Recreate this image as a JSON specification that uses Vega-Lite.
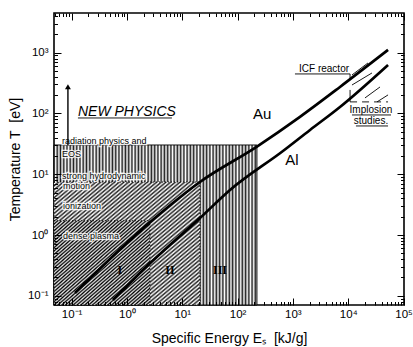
{
"$schema":"https://vega.github.io/schema/vega-lite/v6.json",
"width":350,"height":292,
"autosize":"none",
"padding":{"left":54,"top":13,"right":9,"bottom":42},
"background":"white",
"config":{"view":{"stroke":"black","strokeWidth":1.6},"font":"Liberation Sans"},
"datasets":{
"regions":[
{"name":"vert","E":0.048,"E2":224,"T":0.0705,"T2":30.3},
{"name":"diag","E":0.048,"E2":20.9,"T":0.0705,"T2":7.45},
{"name":"dense","E":0.048,"E2":2.61,"T":0.0705,"T2":1.72}
],
"curves":[
{"material":"Au","E":0.115,"T":0.111},
{"material":"Au","E":2.61,"T":1.62},
{"material":"Au","E":20.9,"T":7.45},
{"material":"Au","E":224,"T":28.5},
{"material":"Au","E":1343,"T":88},
{"material":"Au","E":7100,"T":273},
{"material":"Au","E":52500,"T":1110},
{"material":"Al","E":0.558,"T":0.085},
{"material":"Al","E":2.61,"T":0.342},
{"material":"Al","E":20.9,"T":1.9},
{"material":"Al","E":73,"T":5.5},
{"material":"Al","E":662,"T":24.1},
{"material":"Al","E":2040,"T":53.5},
{"material":"Al","E":7100,"T":128},
{"material":"Al","E":52500,"T":630}
],
"labels":[
{"txt":"radiation physics and","E":0.0668,"T":35.7,"kind":"region"},
{"txt":"EOS","E":0.0668,"T":21.5,"kind":"region"},
{"txt":"strong hydrodynamic","E":0.0668,"T":9.4,"kind":"region"},
{"txt":"motion","E":0.07,"T":6.4,"kind":"region"},
{"txt":"ionization","E":0.07,"T":3.0,"kind":"region"},
{"txt":"dense plasma","E":0.07,"T":0.97,"kind":"region"},
{"txt":"I","E":0.747,"T":0.265,"kind":"roman"},
{"txt":"II","E":6.0,"T":0.265,"kind":"roman"},
{"txt":"III","E":48.1,"T":0.265,"kind":"roman"},
{"txt":"Au","E":277,"T":98,"kind":"material"},
{"txt":"Al","E":964,"T":17.2,"kind":"material"},
{"txt":"NEW PHYSICS","E":0.13,"T":106,"kind":"hand"},
{"txt":"ICF reactor","E":1290,"T":540,"kind":"note"},
{"txt":"Implosion","E":25800,"T":114,"kind":"notec"},
{"txt":"studies.","E":25800,"T":75,"kind":"notec"}
],
"segments":[
{"E":0.0857,"T":30,"E2":0.0857,"T2":280,"kind":"arrow"},
{"E":0.13,"T":84.3,"E2":6.5,"T2":84.3,"kind":"line"},
{"E":1090,"T":447,"E2":10800,"T2":447,"kind":"line"},
{"E":10800,"T":447,"E2":10800,"T2":366,"kind":"line"},
{"E":11700,"T":430,"E2":22800,"T2":678,"kind":"line"},
{"E":11700,"T":294,"E2":26900,"T2":464,"kind":"line"},
{"E":20100,"T":180,"E2":37600,"T2":273,"kind":"line"},
{"E":33200,"T":155,"E2":52500,"T2":202,"kind":"line"},
{"E":10800,"T":244,"E2":10800,"T2":155,"kind":"line"},
{"E":10800,"T":155,"E2":52500,"T2":155,"kind":"dash"},
{"E":11700,"T":94.5,"E2":59400,"T2":94.5,"kind":"line"},
{"E":13800,"T":62.3,"E2":52500,"T2":62.3,"kind":"line"}
]
},
"encoding":{
"x":{"field":"E","type":"quantitative","scale":{"type":"log","domain":[0.048,102000],"nice":false},"axis":null},
"y":{"field":"T","type":"quantitative","scale":{"type":"log","domain":[0.0705,4500],"nice":false},"axis":null}
},
"layer":[
{"data":{"name":"regions"},"transform":[{"filter":"datum.name=='vert'"}],
"mark":{"type":"rect","stroke":"black","strokeWidth":0.9,
"fill":{"gradient":"linear","x1":0,"y1":0,"x2":1,"y2":0,"stops":[
{"offset":0,"color":"#222"},{"offset":0.008,"color":"#fff"},{"offset":0.016,"color":"#222"},{"offset":0.024,"color":"#fff"},{"offset":0.032,"color":"#222"},{"offset":0.04,"color":"#fff"},{"offset":0.048,"color":"#222"},{"offset":0.056,"color":"#fff"},{"offset":0.064,"color":"#222"},{"offset":0.072,"color":"#fff"},{"offset":0.08,"color":"#222"},{"offset":0.088,"color":"#fff"},{"offset":0.096,"color":"#222"},{"offset":0.104,"color":"#fff"},{"offset":0.112,"color":"#222"},{"offset":0.12,"color":"#fff"},{"offset":0.128,"color":"#222"},{"offset":0.136,"color":"#fff"},{"offset":0.144,"color":"#222"},{"offset":0.152,"color":"#fff"},{"offset":0.16,"color":"#222"},{"offset":0.168,"color":"#fff"},{"offset":0.176,"color":"#222"},{"offset":0.184,"color":"#fff"},{"offset":0.192,"color":"#222"},{"offset":0.2,"color":"#fff"},{"offset":0.208,"color":"#222"},{"offset":0.216,"color":"#fff"},{"offset":0.224,"color":"#222"},{"offset":0.232,"color":"#fff"},{"offset":0.24,"color":"#222"},{"offset":0.248,"color":"#fff"},{"offset":0.256,"color":"#222"},{"offset":0.264,"color":"#fff"},{"offset":0.272,"color":"#222"},{"offset":0.28,"color":"#fff"},{"offset":0.288,"color":"#222"},{"offset":0.296,"color":"#fff"},{"offset":0.304,"color":"#222"},{"offset":0.312,"color":"#fff"},{"offset":0.32,"color":"#222"},{"offset":0.328,"color":"#fff"},{"offset":0.336,"color":"#222"},{"offset":0.344,"color":"#fff"},{"offset":0.352,"color":"#222"},{"offset":0.36,"color":"#fff"},{"offset":0.368,"color":"#222"},{"offset":0.376,"color":"#fff"},{"offset":0.384,"color":"#222"},{"offset":0.392,"color":"#fff"},{"offset":0.4,"color":"#222"},{"offset":0.408,"color":"#fff"},{"offset":0.416,"color":"#222"},{"offset":0.424,"color":"#fff"},{"offset":0.432,"color":"#222"},{"offset":0.44,"color":"#fff"},{"offset":0.448,"color":"#222"},{"offset":0.456,"color":"#fff"},{"offset":0.464,"color":"#222"},{"offset":0.472,"color":"#fff"},{"offset":0.48,"color":"#222"},{"offset":0.488,"color":"#fff"},{"offset":0.496,"color":"#222"},{"offset":0.504,"color":"#fff"},{"offset":0.512,"color":"#222"},{"offset":0.52,"color":"#fff"},{"offset":0.528,"color":"#222"},{"offset":0.536,"color":"#fff"},{"offset":0.544,"color":"#222"},{"offset":0.552,"color":"#fff"},{"offset":0.56,"color":"#222"},{"offset":0.568,"color":"#fff"},{"offset":0.576,"color":"#222"},{"offset":0.584,"color":"#fff"},{"offset":0.592,"color":"#222"},{"offset":0.6,"color":"#fff"},{"offset":0.608,"color":"#222"},{"offset":0.616,"color":"#fff"},{"offset":0.624,"color":"#222"},{"offset":0.632,"color":"#fff"},{"offset":0.64,"color":"#222"},{"offset":0.648,"color":"#fff"},{"offset":0.656,"color":"#222"},{"offset":0.664,"color":"#fff"},{"offset":0.672,"color":"#222"},{"offset":0.68,"color":"#fff"},{"offset":0.688,"color":"#222"},{"offset":0.696,"color":"#fff"},{"offset":0.704,"color":"#222"},{"offset":0.712,"color":"#fff"},{"offset":0.72,"color":"#222"},{"offset":0.728,"color":"#fff"},{"offset":0.736,"color":"#222"},{"offset":0.744,"color":"#fff"},{"offset":0.752,"color":"#222"},{"offset":0.76,"color":"#fff"},{"offset":0.768,"color":"#222"},{"offset":0.776,"color":"#fff"},{"offset":0.784,"color":"#222"},{"offset":0.792,"color":"#fff"},{"offset":0.8,"color":"#222"},{"offset":0.808,"color":"#fff"},{"offset":0.816,"color":"#222"},{"offset":0.824,"color":"#fff"},{"offset":0.832,"color":"#222"},{"offset":0.84,"color":"#fff"},{"offset":0.848,"color":"#222"},{"offset":0.856,"color":"#fff"},{"offset":0.864,"color":"#222"},{"offset":0.872,"color":"#fff"},{"offset":0.88,"color":"#222"},{"offset":0.888,"color":"#fff"},{"offset":0.896,"color":"#222"},{"offset":0.904,"color":"#fff"},{"offset":0.912,"color":"#222"},{"offset":0.92,"color":"#fff"},{"offset":0.928,"color":"#222"},{"offset":0.936,"color":"#fff"},{"offset":0.944,"color":"#222"},{"offset":0.952,"color":"#fff"},{"offset":0.96,"color":"#222"},{"offset":0.968,"color":"#fff"},{"offset":0.976,"color":"#222"},{"offset":0.984,"color":"#fff"},{"offset":0.992,"color":"#222"},{"offset":1,"color":"#fff"}]}},
"encoding":{
"x":{"field":"E","type":"quantitative","scale":{"type":"log","domain":[0.048,102000],"nice":false},
"axis":{"orient":"bottom","zindex":1,"values":[0.05,0.06,0.07,0.08,0.09,0.1,0.2,0.3,0.4,0.5,0.6,0.7,0.8,0.9,1,2,3,4,5,6,7,8,9,10,20,30,40,50,60,70,80,90,100,200,300,400,500,600,700,800,900,1000,2000,3000,4000,5000,6000,7000,8000,9000,10000,20000,30000,40000,50000,60000,70000,80000,90000,100000],
"labelExpr":"abs(log(datum.value)/LN10 - round(log(datum.value)/LN10)) < 0.000001 ? '10' + ['⁻¹','⁰','¹','²','³','⁴','⁵'][round(log(datum.value)/LN10) + 1] : ''",
"tickSize":{"condition":{"test":"abs(log(datum.value)/LN10 - round(log(datum.value)/LN10)) < 0.000001","value":-7},"value":-3.5},
"tickColor":"black","tickWidth":1,"domain":false,"grid":false,"labelFontSize":11.5,"labelColor":"black","labelPadding":10,"labelOverlap":false,"labelFlush":false,"labelBound":false,
"title":"Specific Energy Eₛ\u00a0 [kJ/g]","titleFontSize":14,"titleFontWeight":"normal","titleColor":"black","titlePadding":8}},
"x2":{"field":"E2"},
"y":{"field":"T","type":"quantitative","scale":{"type":"log","domain":[0.0705,4500],"nice":false},
"axis":{"orient":"left","zindex":1,"values":[0.08,0.09,0.1,0.2,0.3,0.4,0.5,0.6,0.7,0.8,0.9,1,2,3,4,5,6,7,8,9,10,20,30,40,50,60,70,80,90,100,200,300,400,500,600,700,800,900,1000,2000,3000,4000],
"labelExpr":"abs(log(datum.value)/LN10 - round(log(datum.value)/LN10)) < 0.000001 ? '10' + ['⁻¹','⁰','¹','²','³','⁴','⁵'][round(log(datum.value)/LN10) + 1] : ''",
"tickSize":{"condition":{"test":"abs(log(datum.value)/LN10 - round(log(datum.value)/LN10)) < 0.000001","value":-7},"value":-3.5},
"tickColor":"black","tickWidth":1,"domain":false,"grid":false,"labelFontSize":11.5,"labelColor":"black","labelPadding":13,"labelOverlap":false,"labelFlush":false,"labelBound":false,
"title":"Temperature T\u00a0 [eV]","titleFontSize":14,"titleFontWeight":"normal","titleColor":"black","titlePadding":5}},
"y2":{"field":"T2"}}},
{"data":{"name":"regions"},"transform":[{"filter":"datum.name=='diag'"}],
"mark":{"type":"rect","stroke":"black","strokeWidth":0.9,"strokeDash":[1,2],
"fill":{"gradient":"linear","x1":0,"y1":0,"x2":1,"y2":1,"stops":[
{"offset":0,"color":"#222"},{"offset":0.008,"color":"#fff"},{"offset":0.016,"color":"#222"},{"offset":0.024,"color":"#fff"},{"offset":0.032,"color":"#222"},{"offset":0.04,"color":"#fff"},{"offset":0.048,"color":"#222"},{"offset":0.056,"color":"#fff"},{"offset":0.064,"color":"#222"},{"offset":0.072,"color":"#fff"},{"offset":0.08,"color":"#222"},{"offset":0.088,"color":"#fff"},{"offset":0.096,"color":"#222"},{"offset":0.104,"color":"#fff"},{"offset":0.112,"color":"#222"},{"offset":0.12,"color":"#fff"},{"offset":0.128,"color":"#222"},{"offset":0.136,"color":"#fff"},{"offset":0.144,"color":"#222"},{"offset":0.152,"color":"#fff"},{"offset":0.16,"color":"#222"},{"offset":0.168,"color":"#fff"},{"offset":0.176,"color":"#222"},{"offset":0.184,"color":"#fff"},{"offset":0.192,"color":"#222"},{"offset":0.2,"color":"#fff"},{"offset":0.208,"color":"#222"},{"offset":0.216,"color":"#fff"},{"offset":0.224,"color":"#222"},{"offset":0.232,"color":"#fff"},{"offset":0.24,"color":"#222"},{"offset":0.248,"color":"#fff"},{"offset":0.256,"color":"#222"},{"offset":0.264,"color":"#fff"},{"offset":0.272,"color":"#222"},{"offset":0.28,"color":"#fff"},{"offset":0.288,"color":"#222"},{"offset":0.296,"color":"#fff"},{"offset":0.304,"color":"#222"},{"offset":0.312,"color":"#fff"},{"offset":0.32,"color":"#222"},{"offset":0.328,"color":"#fff"},{"offset":0.336,"color":"#222"},{"offset":0.344,"color":"#fff"},{"offset":0.352,"color":"#222"},{"offset":0.36,"color":"#fff"},{"offset":0.368,"color":"#222"},{"offset":0.376,"color":"#fff"},{"offset":0.384,"color":"#222"},{"offset":0.392,"color":"#fff"},{"offset":0.4,"color":"#222"},{"offset":0.408,"color":"#fff"},{"offset":0.416,"color":"#222"},{"offset":0.424,"color":"#fff"},{"offset":0.432,"color":"#222"},{"offset":0.44,"color":"#fff"},{"offset":0.448,"color":"#222"},{"offset":0.456,"color":"#fff"},{"offset":0.464,"color":"#222"},{"offset":0.472,"color":"#fff"},{"offset":0.48,"color":"#222"},{"offset":0.488,"color":"#fff"},{"offset":0.496,"color":"#222"},{"offset":0.504,"color":"#fff"},{"offset":0.512,"color":"#222"},{"offset":0.52,"color":"#fff"},{"offset":0.528,"color":"#222"},{"offset":0.536,"color":"#fff"},{"offset":0.544,"color":"#222"},{"offset":0.552,"color":"#fff"},{"offset":0.56,"color":"#222"},{"offset":0.568,"color":"#fff"},{"offset":0.576,"color":"#222"},{"offset":0.584,"color":"#fff"},{"offset":0.592,"color":"#222"},{"offset":0.6,"color":"#fff"},{"offset":0.608,"color":"#222"},{"offset":0.616,"color":"#fff"},{"offset":0.624,"color":"#222"},{"offset":0.632,"color":"#fff"},{"offset":0.64,"color":"#222"},{"offset":0.648,"color":"#fff"},{"offset":0.656,"color":"#222"},{"offset":0.664,"color":"#fff"},{"offset":0.672,"color":"#222"},{"offset":0.68,"color":"#fff"},{"offset":0.688,"color":"#222"},{"offset":0.696,"color":"#fff"},{"offset":0.704,"color":"#222"},{"offset":0.712,"color":"#fff"},{"offset":0.72,"color":"#222"},{"offset":0.728,"color":"#fff"},{"offset":0.736,"color":"#222"},{"offset":0.744,"color":"#fff"},{"offset":0.752,"color":"#222"},{"offset":0.76,"color":"#fff"},{"offset":0.768,"color":"#222"},{"offset":0.776,"color":"#fff"},{"offset":0.784,"color":"#222"},{"offset":0.792,"color":"#fff"},{"offset":0.8,"color":"#222"},{"offset":0.808,"color":"#fff"},{"offset":0.816,"color":"#222"},{"offset":0.824,"color":"#fff"},{"offset":0.832,"color":"#222"},{"offset":0.84,"color":"#fff"},{"offset":0.848,"color":"#222"},{"offset":0.856,"color":"#fff"},{"offset":0.864,"color":"#222"},{"offset":0.872,"color":"#fff"},{"offset":0.88,"color":"#222"},{"offset":0.888,"color":"#fff"},{"offset":0.896,"color":"#222"},{"offset":0.904,"color":"#fff"},{"offset":0.912,"color":"#222"},{"offset":0.92,"color":"#fff"},{"offset":0.928,"color":"#222"},{"offset":0.936,"color":"#fff"},{"offset":0.944,"color":"#222"},{"offset":0.952,"color":"#fff"},{"offset":0.96,"color":"#222"},{"offset":0.968,"color":"#fff"},{"offset":0.976,"color":"#222"},{"offset":0.984,"color":"#fff"},{"offset":0.992,"color":"#222"},{"offset":1,"color":"#fff"}]}},
"encoding":{
"x":{"field":"E","type":"quantitative","scale":{"type":"log","domain":[0.048,102000],"nice":false},
"axis":{"orient":"top","zindex":1,"values":[0.05,0.06,0.07,0.08,0.09,0.1,0.2,0.3,0.4,0.5,0.6,0.7,0.8,0.9,1,2,3,4,5,6,7,8,9,10,20,30,40,50,60,70,80,90,100,200,300,400,500,600,700,800,900,1000,2000,3000,4000,5000,6000,7000,8000,9000,10000,20000,30000,40000,50000,60000,70000,80000,90000,100000],
"labels":false,"title":null,"domain":false,"grid":false,"tickColor":"black","tickWidth":1,
"tickSize":{"condition":{"test":"abs(log(datum.value)/LN10 - round(log(datum.value)/LN10)) < 0.000001","value":-7},"value":-3.5}}},
"x2":{"field":"E2"},
"y":{"field":"T","type":"quantitative","scale":{"type":"log","domain":[0.0705,4500],"nice":false},
"axis":{"orient":"right","zindex":1,"values":[0.08,0.09,0.1,0.2,0.3,0.4,0.5,0.6,0.7,0.8,0.9,1,2,3,4,5,6,7,8,9,10,20,30,40,50,60,70,80,90,100,200,300,400,500,600,700,800,900,1000,2000,3000,4000],
"labels":false,"title":null,"domain":false,"grid":false,"tickColor":"black","tickWidth":1,
"tickSize":{"condition":{"test":"abs(log(datum.value)/LN10 - round(log(datum.value)/LN10)) < 0.000001","value":-7},"value":-3.5}}},
"y2":{"field":"T2"}}},
{"data":{"name":"regions"},"transform":[{"filter":"datum.name=='dense'"}],
"mark":{"type":"rect","stroke":"black","strokeWidth":0.9,"strokeDash":[1,2],
"fill":{"gradient":"linear","x1":0,"y1":0,"x2":1,"y2":1,"stops":[
{"offset":0,"color":"#000"},{"offset":0.01,"color":"#e8e8e8"},{"offset":0.02,"color":"#000"},{"offset":0.03,"color":"#e8e8e8"},{"offset":0.04,"color":"#000"},{"offset":0.05,"color":"#e8e8e8"},{"offset":0.06,"color":"#000"},{"offset":0.07,"color":"#e8e8e8"},{"offset":0.08,"color":"#000"},{"offset":0.09,"color":"#e8e8e8"},{"offset":0.1,"color":"#000"},{"offset":0.11,"color":"#e8e8e8"},{"offset":0.12,"color":"#000"},{"offset":0.13,"color":"#e8e8e8"},{"offset":0.14,"color":"#000"},{"offset":0.15,"color":"#e8e8e8"},{"offset":0.16,"color":"#000"},{"offset":0.17,"color":"#e8e8e8"},{"offset":0.18,"color":"#000"},{"offset":0.19,"color":"#e8e8e8"},{"offset":0.2,"color":"#000"},{"offset":0.21,"color":"#e8e8e8"},{"offset":0.22,"color":"#000"},{"offset":0.23,"color":"#e8e8e8"},{"offset":0.24,"color":"#000"},{"offset":0.25,"color":"#e8e8e8"},{"offset":0.26,"color":"#000"},{"offset":0.27,"color":"#e8e8e8"},{"offset":0.28,"color":"#000"},{"offset":0.29,"color":"#e8e8e8"},{"offset":0.3,"color":"#000"},{"offset":0.31,"color":"#e8e8e8"},{"offset":0.32,"color":"#000"},{"offset":0.33,"color":"#e8e8e8"},{"offset":0.34,"color":"#000"},{"offset":0.35,"color":"#e8e8e8"},{"offset":0.36,"color":"#000"},{"offset":0.37,"color":"#e8e8e8"},{"offset":0.38,"color":"#000"},{"offset":0.39,"color":"#e8e8e8"},{"offset":0.4,"color":"#000"},{"offset":0.41,"color":"#e8e8e8"},{"offset":0.42,"color":"#000"},{"offset":0.43,"color":"#e8e8e8"},{"offset":0.44,"color":"#000"},{"offset":0.45,"color":"#e8e8e8"},{"offset":0.46,"color":"#000"},{"offset":0.47,"color":"#e8e8e8"},{"offset":0.48,"color":"#000"},{"offset":0.49,"color":"#e8e8e8"},{"offset":0.5,"color":"#000"},{"offset":0.51,"color":"#e8e8e8"},{"offset":0.52,"color":"#000"},{"offset":0.53,"color":"#e8e8e8"},{"offset":0.54,"color":"#000"},{"offset":0.55,"color":"#e8e8e8"},{"offset":0.56,"color":"#000"},{"offset":0.57,"color":"#e8e8e8"},{"offset":0.58,"color":"#000"},{"offset":0.59,"color":"#e8e8e8"},{"offset":0.6,"color":"#000"},{"offset":0.61,"color":"#e8e8e8"},{"offset":0.62,"color":"#000"},{"offset":0.63,"color":"#e8e8e8"},{"offset":0.64,"color":"#000"},{"offset":0.65,"color":"#e8e8e8"},{"offset":0.66,"color":"#000"},{"offset":0.67,"color":"#e8e8e8"},{"offset":0.68,"color":"#000"},{"offset":0.69,"color":"#e8e8e8"},{"offset":0.7,"color":"#000"},{"offset":0.71,"color":"#e8e8e8"},{"offset":0.72,"color":"#000"},{"offset":0.73,"color":"#e8e8e8"},{"offset":0.74,"color":"#000"},{"offset":0.75,"color":"#e8e8e8"},{"offset":0.76,"color":"#000"},{"offset":0.77,"color":"#e8e8e8"},{"offset":0.78,"color":"#000"},{"offset":0.79,"color":"#e8e8e8"},{"offset":0.8,"color":"#000"},{"offset":0.81,"color":"#e8e8e8"},{"offset":0.82,"color":"#000"},{"offset":0.83,"color":"#e8e8e8"},{"offset":0.84,"color":"#000"},{"offset":0.85,"color":"#e8e8e8"},{"offset":0.86,"color":"#000"},{"offset":0.87,"color":"#e8e8e8"},{"offset":0.88,"color":"#000"},{"offset":0.89,"color":"#e8e8e8"},{"offset":0.9,"color":"#000"},{"offset":0.91,"color":"#e8e8e8"},{"offset":0.92,"color":"#000"},{"offset":0.93,"color":"#e8e8e8"},{"offset":0.94,"color":"#000"},{"offset":0.95,"color":"#e8e8e8"},{"offset":0.96,"color":"#000"},{"offset":0.97,"color":"#e8e8e8"},{"offset":0.98,"color":"#000"},{"offset":0.99,"color":"#e8e8e8"},{"offset":1,"color":"#000"}]}},
"encoding":{"x2":{"field":"E2"},"y2":{"field":"T2"}}},
{"data":{"name":"labels"},"transform":[{"filter":"datum.kind=='region'"}],
"mark":{"type":"text","align":"left","baseline":"middle","fontSize":9,"color":"white","fill":"white","stroke":"white","strokeWidth":2.5,"strokeOpacity":0.85},
"encoding":{"text":{"field":"txt"}}},
{"data":{"name":"labels"},"transform":[{"filter":"datum.kind=='region'"}],
"mark":{"type":"text","align":"left","baseline":"middle","fontSize":9,"color":"black"},
"encoding":{"text":{"field":"txt"}}},
{"data":{"name":"curves"},
"mark":{"type":"line","color":"black","strokeWidth":2.7,"interpolate":"monotone"},
"encoding":{"detail":{"field":"material"}}},
{"data":{"name":"segments"},"transform":[{"filter":"datum.kind=='arrow'"}],
"mark":{"type":"rule","color":"black","strokeWidth":1.4},
"encoding":{"x2":{"field":"E2"},"y2":{"field":"T2"}}},
{"data":{"name":"segments"},"transform":[{"filter":"datum.kind=='line'"}],
"mark":{"type":"rule","color":"black","strokeWidth":0.9},
"encoding":{"x2":{"field":"E2"},"y2":{"field":"T2"}}},
{"data":{"name":"segments"},"transform":[{"filter":"datum.kind=='dash'"}],
"mark":{"type":"rule","color":"black","strokeWidth":0.9,"strokeDash":[7,5]},
"encoding":{"x2":{"field":"E2"},"y2":{"field":"T2"}}},
{"data":{"values":[{"E":0.0857,"T":275}]},
"mark":{"type":"point","shape":"triangle-up","filled":true,"color":"black","size":35,"opacity":1}},
{"data":{"name":"labels"},"transform":[{"filter":"datum.kind=='roman'"}],
"mark":{"type":"text","align":"center","baseline":"middle","fontSize":12,"fontWeight":"bold","font":"Liberation Serif","color":"black"},
"encoding":{"text":{"field":"txt"}}},
{"data":{"name":"labels"},"transform":[{"filter":"datum.kind=='material'"}],
"mark":{"type":"text","align":"center","baseline":"middle","fontSize":15,"color":"black"},
"encoding":{"text":{"field":"txt"}}},
{"data":{"name":"labels"},"transform":[{"filter":"datum.kind=='hand'"}],
"mark":{"type":"text","align":"left","baseline":"middle","fontSize":14,"fontStyle":"italic","color":"black"},
"encoding":{"text":{"field":"txt"}}},
{"data":{"name":"labels"},"transform":[{"filter":"datum.kind=='note'"}],
"mark":{"type":"text","align":"left","baseline":"middle","fontSize":10,"color":"black"},
"encoding":{"text":{"field":"txt"}}},
{"data":{"name":"labels"},"transform":[{"filter":"datum.kind=='notec'"}],
"mark":{"type":"text","align":"center","baseline":"middle","fontSize":10,"color":"black"},
"encoding":{"text":{"field":"txt"}}}
],
"resolve":{"axis":{"x":"independent","y":"independent"}}
}
